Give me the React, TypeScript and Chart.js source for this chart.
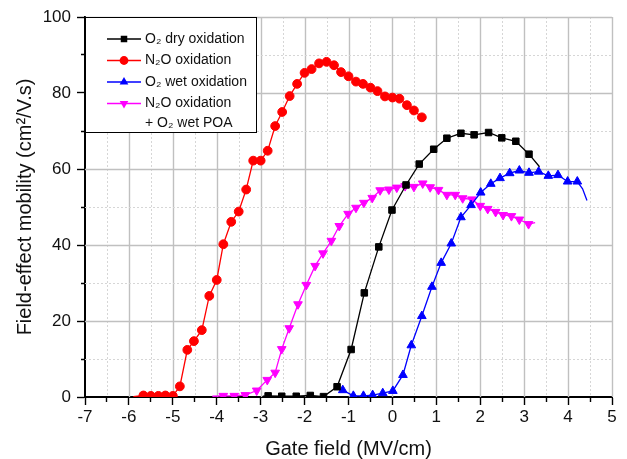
import React, { useEffect, useRef } from 'react';
import { Chart, registerables } from 'chart.js';
Chart.register(...registerables);

const FONT = '"Liberation Sans", Arial, sans-serif';

// Axis ranges / tick steps
const xMin = -7;
const xMax = 5;
const xStep = 0.5;
const yMin = 0;
const yMax = 100;
const yStep = 10;

// O2 dry oxidation (black squares)
const dryX = [-2.95, -2.83, -2.52, -2.19, -1.87, -1.57, -1.26, -0.94, -0.64, -0.31, -0.01, 0.31, 0.61, 0.94, 1.24, 1.56, 1.86, 2.19, 2.49, 2.81, 3.11, 3.35];
const dryY = [0.2, 0.3, 0.2, 0.2, 0.4, 0.1, 2.7, 12.5, 27.4, 39.5, 49.2, 55.8, 61.3, 65.2, 68.1, 69.4, 69.0, 69.6, 68.2, 67.3, 63.9, 60.6];
const dryBare = [0, 21];

// N2O oxidation (red circles)
const n2oX = [-5.9, -5.67, -5.5, -5.33, -5.17, -5.0, -4.84, -4.67, -4.52, -4.34, -4.17, -4.0, -3.85, -3.67, -3.5, -3.33, -3.17, -3.0, -2.84, -2.67, -2.51, -2.34, -2.17, -2.0, -1.84, -1.67, -1.5, -1.33, -1.17, -1.0, -0.83, -0.67, -0.5, -0.34, -0.17, 0, 0.16, 0.33, 0.49, 0.67];
const n2oY = [0.1, 0.4, 0.3, 0.3, 0.4, 0.3, 2.8, 12.4, 14.7, 17.6, 26.6, 30.8, 40.2, 46.1, 48.8, 54.6, 62.2, 62.2, 64.8, 71.3, 75.0, 79.2, 82.4, 85.3, 86.3, 87.8, 88.2, 87.3, 85.5, 84.4, 83.0, 82.4, 81.4, 80.5, 79.1, 78.8, 78.5, 76.8, 75.4, 73.6];
const n2oBare = [0];

// O2 wet oxidation (blue up triangles)
const wetX = [-1.13, -0.89, -0.66, -0.45, -0.22, 0.01, 0.24, 0.43, 0.67, 0.90, 1.11, 1.34, 1.56, 1.79, 2.01, 2.24, 2.45, 2.67, 2.89, 3.11, 3.33, 3.55, 3.77, 3.99, 4.21, 4.33, 4.43];
const wetY = [1.8, 0.3, 0.3, 0.5, 1.0, 1.6, 5.8, 13.6, 21.3, 29.0, 35.3, 40.4, 47.3, 50.5, 53.8, 56.1, 57.6, 58.9, 59.6, 59.0, 59.3, 58.2, 58.4, 56.7, 56.7, 54.8, 51.7];
const wetBare = [25, 26];

// N2O oxidation + O2 wet POA (magenta down triangles)
const poaX = [-4.1, -3.85, -3.6, -3.35, -3.09, -2.85, -2.67, -2.52, -2.35, -2.15, -1.96, -1.76, -1.58, -1.39, -1.21, -1.01, -0.83, -0.65, -0.46, -0.28, -0.08, 0.10, 0.29, 0.49, 0.69, 0.86, 1.05, 1.24, 1.43, 1.60, 1.81, 2.0, 2.17, 2.35, 2.52, 2.71, 2.89, 3.10, 3.25];
const poaY = [0.2, 0.3, 0.3, 0.5, 1.7, 4.5, 6.4, 12.6, 18.1, 24.4, 29.5, 34.5, 37.8, 41.1, 45.0, 48.2, 49.8, 51.1, 52.4, 54.4, 54.6, 55.1, 55.5, 55.3, 56.2, 55.2, 54.5, 53.2, 53.2, 52.3, 52.0, 50.3, 49.5, 48.7, 47.9, 47.6, 46.7, 45.5, 45.9];
const poaBare = [0, 38];

const legendLabels: string[][] = [
  ['O₂ dry oxidation'],
  ['N₂O oxidation'],
  ['O₂ wet oxidation'],
  ['N₂O oxidation', '+ O₂ wet POA'],
];

const xTitle = 'Gate field (MV/cm)';
const yTitle = 'Field-effect mobility (cm²/V.s)';

const isMajorX = (v: number) => Math.abs(v - Math.round(v)) < 1e-6;
const isMajorY = (v: number) => Math.abs(v / 20 - Math.round(v / 20)) < 1e-6;

function pts(xs: number[], ys: number[]) {
  return xs.map((x, i) => ({ x, y: ys[i] }));
}

function drawMarker(ctx: CanvasRenderingContext2D, style: string, x: number, y: number, r: number, color: string) {
  ctx.fillStyle = color;
  ctx.beginPath();
  if (style === 'circle') {
    ctx.arc(x, y, r, 0, Math.PI * 2);
  } else if (style === 'rect') {
    const s = r * Math.SQRT1_2;
    ctx.rect(x - s, y - s, 2 * s, 2 * s);
  } else if (style === 'triangle') {
    ctx.moveTo(x, y - r);
    ctx.lineTo(x + r * 0.866, y + r / 2);
    ctx.lineTo(x - r * 0.866, y + r / 2);
  } else {
    ctx.moveTo(x, y + r);
    ctx.lineTo(x + r * 0.866, y - r / 2);
    ctx.lineTo(x - r * 0.866, y - r / 2);
  }
  ctx.closePath();
  ctx.fill();
}

// Grid lines drawn from the library's own scale ticks
const gridPlugin = {
  id: 'customGrid',
  beforeDatasetsDraw(chart: any) {
    const { ctx, chartArea, scales } = chart;
    const { left, right, top, bottom } = chartArea;
    ctx.save();
    const line = (x1: number, y1: number, x2: number, y2: number, major: boolean) => {
      ctx.beginPath();
      ctx.strokeStyle = major ? '#c0c0c0' : '#d6d6d6';
      ctx.lineWidth = major ? 1.4 : 1;
      ctx.setLineDash(major ? [] : [2, 2]);
      ctx.moveTo(x1, y1);
      ctx.lineTo(x2, y2);
      ctx.stroke();
    };
    scales.x.ticks.forEach((t: any) => {
      const x = Math.round(scales.x.getPixelForValue(t.value)) + 0.5;
      if (x <= left + 1) return;
      line(x, top, x, bottom, isMajorX(t.value));
    });
    scales.y.ticks.forEach((t: any) => {
      const y = Math.round(scales.y.getPixelForValue(t.value)) + 0.5;
      if (y >= bottom - 1) return;
      line(left, y, right, y, isMajorY(t.value));
    });
    ctx.restore();
  },
};

const legendPlugin = {
  id: 'boxLegend',
  afterDatasetsDraw(chart: any) {
    const { ctx, chartArea } = chart;
    const left = chartArea.left;
    const top = chartArea.top;
    const w = 171;
    const h = 115;
    ctx.save();
    ctx.fillStyle = '#ffffff';
    ctx.fillRect(left, top, w, h);
    ctx.strokeStyle = '#000';
    ctx.lineWidth = 1;
    ctx.strokeRect(left + 0.5, top + 0.5, w, h);
    ctx.font = `14px ${FONT}`;
    ctx.textBaseline = 'middle';
    ctx.textAlign = 'left';
    const rows = [22, 43.5, 65, 86.5];
    chart.data.datasets.forEach((ds: any, i: number) => {
      const y = top + rows[i];
      ctx.strokeStyle = ds.borderColor;
      ctx.lineWidth = 1.3;
      ctx.beginPath();
      ctx.moveTo(left + 22, y);
      ctx.lineTo(left + 56, y);
      ctx.stroke();
      const style = ds.pointStyle === 'triangle' && ds.pointRotation === 180 ? 'triangleDown' : ds.pointStyle;
      drawMarker(ctx, style, left + 39, y, ds.legendRadius, ds.borderColor);
      ctx.fillStyle = '#111';
      legendLabels[i].forEach((t, k) => {
        ctx.fillText(t, left + 60, y + k * 20);
      });
    });
    ctx.restore();
  },
};

export default function App() {
  const ref = useRef<HTMLCanvasElement | null>(null);

  useEffect(() => {
    document.body.style.margin = '0';
    if (!ref.current) return;
    const mk = (label: string, xs: number[], ys: number[], color: string, style: string, r: number, bare: number[], rot = 0) => ({
      label,
      data: pts(xs, ys),
      borderColor: color,
      backgroundColor: color,
      borderWidth: 1.3,
      pointStyle: style,
      pointRotation: rot,
      pointRadius: (c: any) => (bare.includes(c.dataIndex) ? 0 : r),
      pointHoverRadius: 0,
      pointBorderWidth: 1,
      legendRadius: r,
      tension: 0,
      fill: false,
    });
    const chart = new Chart(ref.current, {
      type: 'line',
      data: {
        datasets: [
          mk('O2 dry oxidation', dryX, dryY, '#000000', 'rect', 4.6, dryBare),
          mk('N2O oxidation', n2oX, n2oY, '#ff0000', 'circle', 4.4, n2oBare),
          mk('O2 wet oxidation', wetX, wetY, '#0000ff', 'triangle', 5, wetBare),
          mk('N2O oxidation + O2 wet POA', poaX, poaY, '#ff00ff', 'triangle', 5, poaBare, 180),
        ] as any,
      },
      options: {
        animation: false,
        responsive: true,
        maintainAspectRatio: false,
        layout: { padding: { top: 17, right: 15, left: 0, bottom: 0 } },
        plugins: { legend: { display: false }, tooltip: { enabled: false } },
        scales: {
          x: {
            type: 'linear',
            min: xMin,
            max: xMax,
            ticks: {
              stepSize: xStep,
              autoSkip: false,
              maxRotation: 0,
              padding: 2,
              color: '#111',
              font: { family: FONT, size: 17 },
              callback: (v: any) => (isMajorX(Number(v)) ? String(Math.round(Number(v))) : ''),
            },
            grid: {
              drawOnChartArea: false,
              tickColor: '#000',
              tickWidth: 1.4,
              tickLength: 8,
              tickBorderDash: (c: any) => (c.tick && !isMajorX(c.tick.value) ? [4, 40] : []),
            },
            border: { color: '#000', width: 2 },
            title: {
              display: true,
              text: xTitle,
              color: '#111',
              font: { family: FONT, size: 20, lineHeight: 1 },
              padding: { top: 0, bottom: 0 },
            },
            afterFit: (s: any) => {
              s.height = 62;
            },
          },
          y: {
            type: 'linear',
            min: yMin,
            max: yMax,
            ticks: {
              stepSize: yStep,
              autoSkip: false,
              padding: 6,
              color: '#111',
              font: { family: FONT, size: 17 },
              callback: (v: any) => (isMajorY(Number(v)) ? String(v) : ''),
            },
            grid: {
              drawOnChartArea: false,
              tickColor: '#000',
              tickWidth: 1.4,
              tickLength: 8,
              tickBorderDash: (c: any) => (c.tick && !isMajorY(c.tick.value) ? [0, 4, 4, 40] : []),
            },
            border: { color: '#000', width: 2 },
            title: {
              display: true,
              text: yTitle,
              color: '#111',
              font: { family: FONT, size: 20 },
              padding: { top: 13, bottom: 0 },
            },
            afterFit: (s: any) => {
              s.width = 85;
            },
          },
        },
      } as any,
      plugins: [gridPlugin, legendPlugin],
    });
    return () => chart.destroy();
  }, []);

  return (
    <div style={{ width: 627, height: 459, position: 'relative', background: '#fff' }}>
      <canvas ref={ref} />
    </div>
  );
}
